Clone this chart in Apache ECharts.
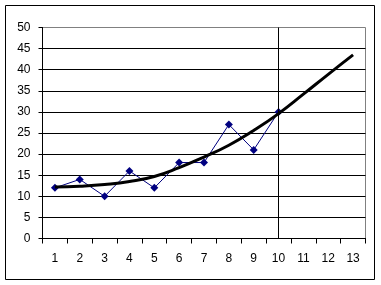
<!DOCTYPE html>
<html><head><meta charset="utf-8">
<script src="https://cdn.jsdelivr.net/npm/echarts@6/dist/echarts.min.js"></script>
<style>html,body{margin:0;padding:0;background:#fff;}#c{width:381px;height:285px;}</style>
</head><body><div id="c"></div>
<script>
var categories = ['1','2','3','4','5','6','7','8','9','10','11','12','13'];
var observed = [12, 14, 10, 16, 12, 18, 18, 27, 21, 30];
var trend = [12.2, 12.4, 12.8, 13.5, 14.7, 16.8, 19.3, 22.1, 25.6, 29.6, 34.2, 38.9, 43.5];
var markerCategory = '10';

var chart = echarts.init(document.getElementById('c'), null, {renderer:'canvas'});
var font = {fontFamily:'Liberation Sans, Arial, sans-serif', fontSize:12, color:'#000'};
chart.setOption({
  animation:false,
  backgroundColor:'#fff',
  graphic:[{type:'rect', shape:{x:5.5,y:5.5,width:369,height:274}, style:{fill:'none',stroke:'#000',lineWidth:1}, z:-1}],
  grid:{left:42.5, right:15.5, top:27.5, bottom:46.5, show:true, borderColor:'#808080', borderWidth:1, backgroundColor:'transparent'},
  xAxis:{type:'category', data:categories, boundaryGap:true,
    axisLine:{lineStyle:{color:'#000',width:1}},
    axisTick:{show:true, alignWithLabel:false, length:5, lineStyle:{color:'#000'}},
    axisLabel:Object.assign({margin:14, interval:0}, font),
    splitLine:{show:false}},
  yAxis:{type:'value', min:0, max:50, interval:5,
    axisLine:{show:true, lineStyle:{color:'#000',width:1}},
    axisTick:{show:true, length:4, lineStyle:{color:'#000'}},
    axisLabel:Object.assign({margin:12}, font),
    splitLine:{show:true, showMaxLine:false, lineStyle:{color:'#000',width:1}}},
  series:[
    {type:'line', data:observed, symbol:'diamond', symbolSize:8,
      itemStyle:{color:'#000080'}, lineStyle:{color:'#000080', width:1}, z:3,
      markLine:{silent:true, symbol:'none', label:{show:false},
        lineStyle:{color:'#000', width:1, type:'solid'},
        data:[{xAxis:markerCategory}]}},
    {type:'line', data:trend, smooth:true, showSymbol:false, symbol:'none',
      lineStyle:{color:'#000', width:3}, z:4}
  ]
});
</script></body></html>
